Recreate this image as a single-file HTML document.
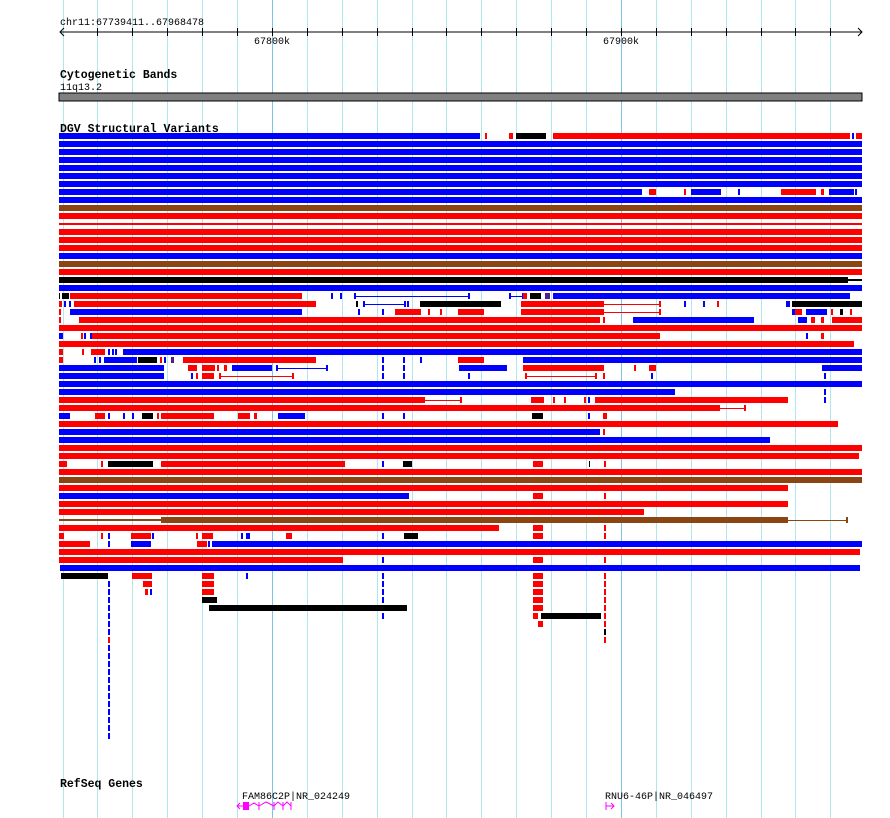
<!DOCTYPE html>
<html><head><meta charset="utf-8"><style>
html,body{margin:0;padding:0;background:#fff;}
body{width:890px;height:818px;overflow:hidden;position:relative;}
svg{position:absolute;left:0;top:0;}
text{font-family:"Liberation Mono",monospace;}
</style></head><body>
<svg id="s" width="890" height="818" xmlns="http://www.w3.org/2000/svg">
<g id="grid"></g>
<text x="60" y="25" font-size="10">chr11:67739411..67968478</text>
<line x1="60" y1="32" x2="862" y2="32" stroke="#000"/>
<path d="M64,28 L60,32 L64,36 M858,28 L862,32 L858,36" stroke="#000" fill="none"/>
<g id="ticks"></g>
<text x="254" y="44" font-size="10">67800k</text>
<text x="603" y="44" font-size="10">67900k</text>
<text x="60" y="78" font-size="11.5" font-weight="bold">Cytogenetic Bands</text>
<text x="60" y="90" font-size="10">11q13.2</text>
<rect x="59" y="93" width="803" height="8" fill="#808080" stroke="#000" stroke-width="1"/>
<text x="60" y="132" font-size="11.5" font-weight="bold">DGV Structural Variants</text>
<g id="bars"></g>
<text x="60" y="787" font-size="11.5" font-weight="bold">RefSeq Genes</text>
<text x="242" y="799" font-size="10">FAM86C2P|NR_024249</text>
<text x="605" y="799" font-size="10">RNU6-46P|NR_046497</text>
<g stroke="#ff00ff" fill="#ff00ff">
<path d="M236,806 L292,806" stroke-width="0" />
<path d="M237,806 L243,806 M240,803 L237,806 L240,809" fill="none"/>
<rect x="243" y="802" width="6" height="8" stroke="none"/>
<path d="M249,806 L254,803 L259,806 M259,802 L259,810 M259,806 L266,802 L274,806 M274,802 L274,810 M274,806 L278,802 L283,806 M283,802 L283,810 M283,806 L287,802 L291,806 M291,802 L291,810" fill="none"/>
<path d="M606,802 L606,810 M606,806 L614,806 M611,803 L614,806 L611,809" fill="none"/>
</g>
</svg>
<script>
var NS="http://www.w3.org/2000/svg";
function el(p,t,a){var e=document.createElementNS(NS,t);for(var k in a)e.setAttribute(k,a[k]);p.appendChild(e);return e;}
var g=document.getElementById('grid'),tk=document.getElementById('ticks');
for(var i=0;i<23;i++){var x=Math.round(62.5+34.9*i);var maj=(x>=270&&x<=274)||(x>=619&&x<=623);
el(g,'line',{x1:x+.5,y1:0,x2:x+.5,y2:818,stroke:maj?'#7cc4e4':'#b0e6ee','stroke-width':1});
if(i>0)el(tk,'line',{x1:x+.5,y1:28,x2:x+.5,y2:36,stroke:'#000'});}
var C={b:'#0000ff',r:'#ff0000',k:'#000',n:'#8b4513',p:'#551a8b'};
var B='59-862b',R='59-862r';
var rows={
133:'59-480b 485-487r 509-513r 516-546k 553-850r 852-854b 856-862r',
141:B,149:B,157:B,165:B,173:B,181:B,
189:'59-642b 649-656r 684-686r 691-721b 738-740b 781-816r 821-824r 829-854b 855-857b',
197:B,205:'59-862n',213:R,221:'L59-862r',229:R,237:R,245:R,253:B,261:'59-862n',269:R,
277:'59-848k L848-862k',285:B,
293:'59-60k 62-69k 70-302r 331-333b 340-342b C354-469b C509-523b 523-527r 530-541k 545-550p 553-850b',
301:'59-62r 64-66b 69-71b 74-316r 356-358k C363-405b 407-409b 420-501k 521-604r T604-660r 684-686b 703-705b 717-719r 786-790b 792-862k',
309:'59-61r 70-302b 358-360b 382-384b 395-421r 428-430r 440-442r 458-484r 521-604r T604-660r 792-795b 795-802r 806-827b 831-833r 840-843k 850-852r',
317:'59-61r 79-600r 603-605r 633-754b 798-807b 811-815r 821-824r 832-862r',
325:R,
333:'59-63b 81-83r 84-86b 90-92b 92-660r 806-808b 821-824r',
341:'59-854r',
349:'59-63r 82-84r 91-105r 108-110b 112-114b 115-117b 123-862b',
357:'59-63r 94-96b 99-101b 104-137b 138-157k 160-162r 164-166b 171-174p 183-316r 382-384b 403-405b 420-422b 458-484r 523-862b',
365:'59-164b 188-197r 202-215r 217-219r 224-227r 232-272b C276-327b 382-384b 403-405b 459-507b 523-604r 634-636r 649-656r 822-862b',
373:'59-164b 191-193b 196-198r 202-214r C219-293r 382-384b 403-405b 468-470b C525-596r 603-605r 651-653b 824-826b',
381:B,
389:'59-675b 824-826b',
397:'59-425r T425-461r 531-544r 553-555r 564-566r 584-586r 588-590b 595-788r 824-826b',
405:'59-720r T720-745r',
413:'59-70b 95-105r 108-110b 123-125b 132-134b 142-153k 157-159r 161-214r 238-250r 254-257r 278-305b 382-384b 403-405b 532-543k 588-590b 603-607r',
421:'59-838r',429:'59-600b 603-605r',437:'59-770b',445:R,453:'59-859r',
461:'59-67r 101-103r 108-153k 161-345r 382-384b 403-412k 533-543r 589-590k 604-606r',
469:R,477:'59-862n',485:'59-788r',493:'59-409b 533-543r 604-606r',501:'59-788r',509:'59-644r',
517:'L59-161n 161-788n T788-847n',
525:'59-499r 533-543r 604-606r',
533:'59-64r 101-103r 108-110b 131-151r 152-154b 196-198r 202-213r 241-243b 246-250b 286-292r 382-384b 404-418k 533-543r 604-606r',
541:'59-90r 108-110b 131-151b 197-207r 208-210b 212-862b',
549:'59-860r',
557:'59-343r 382-384b 533-543r 604-606r',
565:'60-860b',
573:'61-108k 132-152r 202-214r 246-248b 382-384b 533-543r 604-606r',
581:'108-110b 143-152r 202-214r 382-384b 533-543r 604-606r',
589:'108-110b 145-148r 150-152b 202-214r 382-384b 533-543r 604-606r',
597:'108-110b 202-217k 382-384b 533-543r 604-606r',
605:'108-110b 209-407k 533-543r 604-606r',
613:'108-110b 382-384b 533-538r 541-601k 604-606r',
621:'108-110b 538-543r 604-606r',
629:'108-110b 604-606k',
637:'108-110r 604-606r'};
for(var y=645;y<=733;y+=8)rows[y]='108-110b';
var bg=document.getElementById('bars');
for(var y in rows){var yy=+y;rows[y].split(' ').forEach(function(s){
var m=s.match(/^([LCT]?)(\d+)-(\d+)(\w)$/);if(!m)return;var a=+m[2],b=+m[3],c=C[m[4]];
if(m[1]==''){el(bg,'rect',{x:a,y:yy,width:Math.max(1,b-a),height:6,fill:c});}
else if(m[1]=='L'){el(bg,'rect',{x:a,y:yy+2,width:b-a,height:2,fill:c});}
else{el(bg,'rect',{x:a,y:yy+3,width:b-a,height:1,fill:c});
el(bg,'rect',{x:b-1,y:yy,width:2,height:6,fill:c});
if(m[1]=='C')el(bg,'rect',{x:a,y:yy,width:2,height:6,fill:c});}
});}
</script>
</body></html>
